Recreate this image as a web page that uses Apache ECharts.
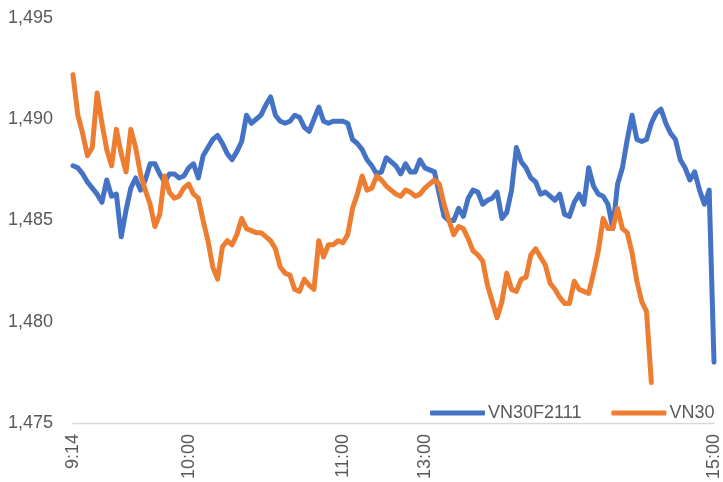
<!DOCTYPE html>
<html>
<head>
<meta charset="utf-8">
<script src="https://cdn.jsdelivr.net/npm/echarts@6/dist/echarts.min.js"></script>
<style>
  html, body { margin: 0; padding: 0; background: #fff; }
  #chart { width: 723px; height: 482px; }
</style>
</head>
<body>
<div id="chart"></div>
<script>
// trading sessions sampled every 2 minutes, plus a few extra readings at spikes
let sessions = [['9:14', '11:28'], ['13:00', '15:00']];
let stepMin = 2;
let extraTimes = ['9:19', '10:33', '10:47', '11:05', '11:17'];
let shownLabels = ['9:14', '10:00', '11:00', '13:00', '15:00'];

let yTicks = [1475, 1480, 1485, 1490, 1495];

let vn30f2111 = [
  // morning
  1487.7, 1487.6, 1487.3, 1486.9, 1486.6, 1486.3, 1485.9, 1487.0, 1486.2, 1486.3,
  1484.2, 1485.5, 1486.6, 1487.1, 1486.5, 1487.0, 1487.8, 1487.8, 1487.3, 1486.9,
  1487.3, 1487.3, 1487.1, 1487.2, 1487.6, 1487.8, 1487.1, 1488.2, 1488.6, 1489.0,
  1489.2, 1488.8, 1488.3, 1488.0, 1488.4, 1488.9, 1490.2, 1489.8, 1490.0, 1490.2,
  1490.7, 1491.1, 1490.2, 1489.9, 1489.8, 1489.9, 1490.2, 1490.1, 1489.6, 1489.4,
  1490.0, 1490.6, 1489.9, 1489.8, 1489.9, 1489.9, 1489.9, 1489.8, 1489.0, 1488.8,
  1488.5, 1488.0, 1487.7, 1487.3, 1487.4, 1488.1, 1487.9, 1487.7, 1487.3, 1487.8,
  1487.4, 1487.4, 1488.0,
  // afternoon
  1487.6, 1487.5, 1487.4, 1486.3, 1485.2, 1485.0, 1485.0, 1485.6, 1485.2, 1486.1,
  1486.5, 1486.4, 1485.8, 1486.0, 1486.1, 1486.4, 1485.1, 1485.4, 1486.5, 1488.6,
  1487.9, 1487.6, 1487.1, 1486.9, 1486.3, 1486.4, 1486.2, 1486.0, 1486.3, 1485.3,
  1485.2, 1485.9, 1486.3, 1485.8, 1487.6, 1486.7, 1486.3, 1486.2, 1485.8, 1484.6,
  1486.8, 1487.6, 1489.0, 1490.2, 1489.0, 1488.9, 1489.0, 1489.8, 1490.3, 1490.5,
  1489.8, 1489.3, 1489.0, 1488.0, 1487.6, 1487.0, 1487.4, 1486.5, 1485.8, 1486.5,
  1478.0
];

let vn30 = [
  // morning
  1492.2, 1490.2, 1489.3, 1488.2, 1488.6, 1491.3, 1489.8, 1488.5, 1487.7, 1489.5,
  1488.3, 1487.4, 1489.5, 1488.6, 1487.3, 1486.5, 1485.8, 1484.7, 1485.3, 1487.2,
  1486.4, 1486.1, 1486.2, 1486.6, 1486.8, 1486.3, 1486.1, 1485.0, 1484.0, 1482.7,
  1482.1, 1483.7, 1484.0, 1483.8, 1484.3, 1485.1, 1484.6, 1484.5, 1484.4, 1484.4,
  1484.2, 1484.0, 1483.6, 1482.7, 1482.4, 1482.3, 1481.6, 1481.5, 1482.1, 1481.8,
  1481.6, 1484.0, 1483.2, 1483.8, 1483.8, 1484.0, 1483.9, 1484.3, 1485.6, 1486.3,
  1487.2, 1486.5, 1486.6, 1487.2, 1487.0, 1486.7, 1486.5, 1486.3, 1486.2, 1486.5,
  1486.4, 1486.2, 1486.3,
  // afternoon (index stops before the close)
  1486.6, 1486.8, 1487.0, 1486.8, 1485.8, 1485.0, 1484.3, 1484.7, 1484.6, 1484.1,
  1483.5, 1483.3, 1483.0, 1481.8, 1481.0, 1480.2, 1481.0, 1482.4, 1481.6, 1481.5,
  1482.1, 1482.2, 1483.3, 1483.6, 1483.2, 1482.8, 1481.9, 1481.6, 1481.2, 1480.9,
  1480.9, 1482.0, 1481.6, 1481.5, 1481.4, 1482.4, 1483.5, 1485.1, 1484.6, 1484.6,
  1485.6, 1484.6, 1484.4, 1483.4, 1482.0, 1481.0, 1480.5, 1477.0
];

function toMin(s) {
  let p = s.split(':');
  return +p[0] * 60 + +p[1];
}
function toStr(m) {
  let mm = m % 60;
  return Math.floor(m / 60) + ':' + (mm < 10 ? '0' + mm : mm);
}

let mins = [];
sessions.forEach(function (s) {
  for (let m = toMin(s[0]); m <= toMin(s[1]); m += stepMin) mins.push(m);
});
extraTimes.forEach(function (t) { mins.push(toMin(t)); });
mins.sort(function (a, b) { return a - b; });
let times = mins.map(toStr);

let textColor = '#595959';
let font = 'Liberation Sans';

let myChart = echarts.init(document.getElementById('chart'));
let option = {
  animation: false,
  grid: { left: 73, right: 4, top: 18, bottom: 59, containLabel: false },
  legend: {
    left: 425,
    top: 399,
    itemWidth: 55,
    itemHeight: 5,
    itemGap: 30,
    icon: 'roundRect',
    textStyle: { color: textColor, fontSize: 18, fontFamily: font, padding: [0, 0, 0, -2] },
    data: ['VN30F2111', 'VN30']
  },
  xAxis: {
    type: 'category',
    data: times,
    boundaryGap: false,
    axisLine: { lineStyle: { color: '#D9D9D9', width: 1.3 } },
    axisTick: { show: false },
    axisLabel: {
      rotate: 90,
      margin: 11,
      color: textColor,
      fontSize: 18,
      fontFamily: font,
      interval: function (idx, val) { return shownLabels.indexOf(val) >= 0; }
    },
    splitLine: { show: false }
  },
  yAxis: {
    type: 'value',
    min: yTicks[0],
    max: yTicks[yTicks.length - 1],
    interval: yTicks[1] - yTicks[0],
    axisLine: { show: false },
    axisTick: { show: false },
    splitLine: { show: false },
    axisLabel: {
      margin: 20,
      color: textColor,
      fontSize: 18,
      fontFamily: font,
      formatter: function (v) { return v.toLocaleString('en-US'); }
    }
  },
  series: [
    {
      name: 'VN30F2111',
      type: 'line',
      data: vn30f2111,
      showSymbol: false,
      symbol: 'none',
      itemStyle: { color: '#4472C4' },
      lineStyle: { color: '#4472C4', width: 5, cap: 'round', join: 'round' }
    },
    {
      name: 'VN30',
      type: 'line',
      data: vn30,
      showSymbol: false,
      symbol: 'none',
      itemStyle: { color: '#ED7D31' },
      lineStyle: { color: '#ED7D31', width: 5, cap: 'round', join: 'round' }
    }
  ]
};
myChart.setOption(option);
</script>
</body>
</html>
